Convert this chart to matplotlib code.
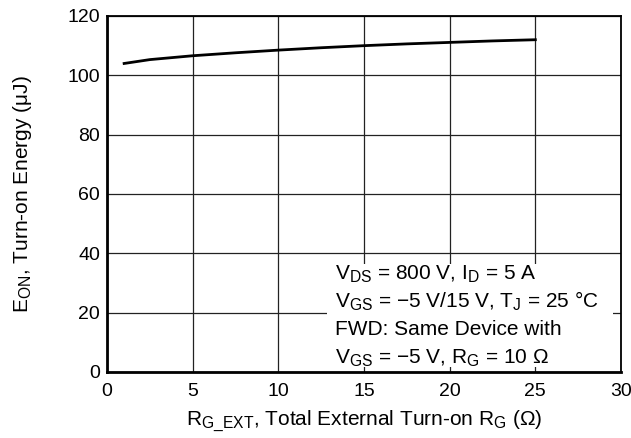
import matplotlib
matplotlib.use("Agg")
import matplotlib.pyplot as plt
from matplotlib.patches import Rectangle
try:
    import matplotlib._mathtext as _mt
    _mt.SHRINK_FACTOR = 0.75
except Exception:
    pass

plt.rcParams['font.family'] = ['Liberation Sans', 'DejaVu Sans']
plt.rcParams['mathtext.fontset'] = 'custom'
plt.rcParams['mathtext.rm'] = 'Liberation Sans'
plt.rcParams['mathtext.it'] = 'Liberation Sans'
plt.rcParams['mathtext.default'] = 'rm'

rg = [1, 2.5, 5, 7.5, 10, 12.5, 15, 17.5, 20, 22.5, 25]
eon = [104.0, 105.3, 106.6, 107.6, 108.5, 109.3, 110.0, 110.6, 111.1, 111.6, 112.0]
xticks = [0, 5, 10, 15, 20, 25, 30]
yticks = [0, 20, 40, 60, 80, 100, 120]
notes = ['V$_{\\mathrm{DS}}$ = 800 V, I$_{\\mathrm{D}}$ = 5 A',
         'V$_{\\mathrm{GS}}$ = \u22125 V/15 V, T$_{\\mathrm{J}}$ = 25 \u00b0C',
         'FWD: Same Device with',
         'V$_{\\mathrm{GS}}$ = \u22125 V, R$_{\\mathrm{G}}$ = 10 \u03a9']

FS_TICK = 14
FS = 15

fig = plt.figure(figsize=(6.31, 4.38), dpi=100)
ax = fig.add_axes([107/631, 66/438, 514/631, 356/438])
ax.set_xlim(0, 30)
ax.set_ylim(0, 120)
ax.set_xticks(xticks)
ax.set_yticks(yticks)
ax.set_axisbelow(True)
ax.grid(True, color='#222222', linewidth=0.9)
ax.tick_params(length=0, labelsize=FS_TICK)
ax.tick_params(axis='x', pad=8)
ax.tick_params(axis='y', pad=5)

for s in ['left', 'bottom']:
    ax.spines[s].set_linewidth(2.0)
for s in ['top', 'right']:
    ax.spines[s].set_linewidth(1.3)

ax.plot(rg, eon, color='black', linewidth=2.0, zorder=3)

ax.add_patch(Rectangle((12.85, 1.7), 16.7, 34.7, facecolor='white',
                       edgecolor='none', zorder=1))
ys = [31.0, 21.6, 12.5, 2.8]
for t, y in zip(notes, ys):
    ax.text(13.3, y, t, fontsize=FS, ha='left', va='baseline', zorder=4)

ax.set_xlabel('R$_{\\mathrm{G\\_EXT}}$, Total External Turn-on R$_{\\mathrm{G}}$ (\u03a9)',
              fontsize=FS, labelpad=6)
ax.set_ylabel('E$_{\\mathrm{ON}}$, Turn-on Energy (\u03bcJ)', fontsize=FS, labelpad=24)

fig.savefig('out.png', dpi=100)
